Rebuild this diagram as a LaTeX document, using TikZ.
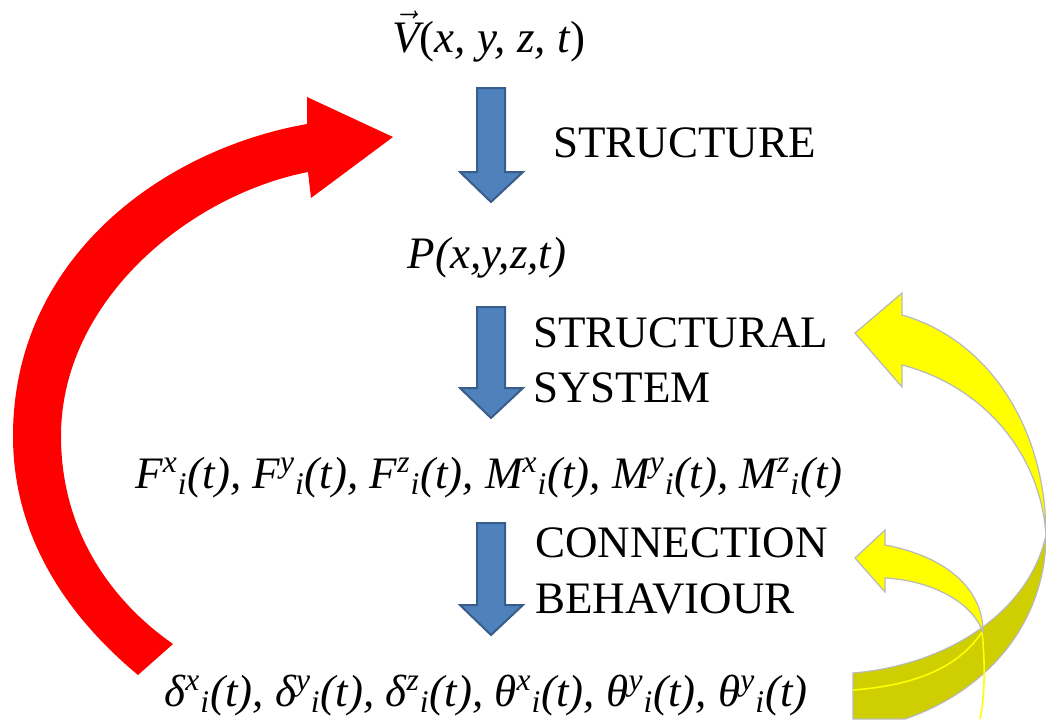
\documentclass[tikz,border=0pt]{standalone}
\usepackage{fontspec}
\setmainfont{Liberation Serif}
\usepackage{amsmath}
\usepackage{tikz}
\usetikzlibrary{positioning}
\definecolor{flowblue}{RGB}{79,129,189}
\definecolor{flowedge}{RGB}{56,93,138}
\definecolor{loopred}{RGB}{255,0,0}
\definecolor{loopyellow}{RGB}{255,255,0}
\definecolor{loopolive}{RGB}{206,206,0}
\definecolor{ribbonedge}{RGB}{185,185,185}
\tikzset{
  formula/.style={font=\fontsize{22.5}{27}\selectfont\itshape,
    inner sep=0pt, anchor=base},
  steplabel/.style={font=\fontsize{22.5}{27.5}\selectfont,
    inner sep=0pt, anchor=base west},
  blockarrow/.style={fill=flowblue, draw=flowedge, line width=1pt},
  feedback/.style={fill=loopred},
  ribbonfront/.style={fill=loopyellow, draw=ribbonedge, line width=0.6pt},
  ribbonback/.style={fill=loopolive, draw=ribbonedge, line width=0.6pt},
  ribbonseam/.style={draw=loopyellow, line width=0.8pt}
}

\begin{document}
\begin{tikzpicture}[x=0.5pt, y=-0.5pt]
  \useasboundingbox (0,0) rectangle (1046,719);

  % Red feedback arrow (left)
  \path[feedback]
    (138,675) .. controls (60,610) and (13,530) .. (13,436)
    .. controls (13,260) and (160,150) .. (307,124)
    -- (307,97) -- (393,137) -- (311,198) -- (308,172)
    .. controls (190,195) and (61,300) .. (61,436)
    .. controls (61,530) and (110,600) .. (173,644) -- cycle;

  % Yellow ribbons (right): back face first
  \path[ribbonback]
    (1046,535) .. controls (1030,610) and (950,665) .. (853,673)
    -- (853,719) -- (905,719)
    .. controls (990,690) and (1046,620) .. (1046,535) -- cycle;
  \draw[ribbonseam] (853,690) .. controls (920,685) and (960,665) .. (982,632);
  \draw[ribbonseam] (982,632) .. controls (986,670) and (984,700) .. (980,719);

  % Yellow ribbons: front faces
  \path[ribbonfront]
    (902,315) .. controls (990,340) and (1046,430) .. (1046,535)
    .. controls (1040,450) and (980,385) .. (902,365)
    -- (902,387) -- (855,333) -- (902,293) -- cycle;
  \path[ribbonfront]
    (885,545) .. controls (940,555) and (983,585) .. (983,632)
    .. controls (970,598) and (925,580) .. (885,578)
    -- (885,592) -- (855,558) -- (885,530) -- cycle;

  % Blue step arrows
  \foreach \ytop/\yhead/\ytip in {88/172/202, 307/388/418, 523/605/635}
    \draw[blockarrow] (477,\ytop) -- (505,\ytop) -- (505,\yhead) -- (523,\yhead)
      -- (491,\ytip) -- (460,\yhead) -- (477,\yhead) -- cycle;

  % Quantities
  \node[formula] (vel) at (489,52)
    {$\vec{\textit{V}}$\textup{(}x, y, z, t\textup{)}};
  \node[formula] (pres) at (487,268) {P(x,y,z,t)};
  \node[formula] (force) at (489,488)
    {F\textsuperscript{x}\textsubscript{i}(t), F\textsuperscript{y}\textsubscript{i}(t),
     F\textsuperscript{z}\textsubscript{i}(t), M\textsuperscript{x}\textsubscript{i}(t),
     M\textsuperscript{y}\textsubscript{i}(t), M\textsuperscript{z}\textsubscript{i}(t)};
  \node[formula] (disp) at (486,706)
    {δ\textsuperscript{x}\textsubscript{i}(t), δ\textsuperscript{y}\textsubscript{i}(t),
     δ\textsuperscript{z}\textsubscript{i}(t), θ\textsuperscript{x}\textsubscript{i}(t),
     θ\textsuperscript{y}\textsubscript{i}(t), θ\textsuperscript{y}\textsubscript{i}(t)};

  % Step labels
  \node[steplabel] (struct) at (553,157) {STRUCTURE};
  \node[steplabel] (sysa) at (533,347) {STRUCTURAL};
  \node[steplabel] (sysb) at (533,402) {SYSTEM};
  \node[steplabel] (conna) at (535,557) {CONNECTION};
  \node[steplabel] (connb) at (535,613) {BEHAVIOUR};
\end{tikzpicture}
\end{document}
